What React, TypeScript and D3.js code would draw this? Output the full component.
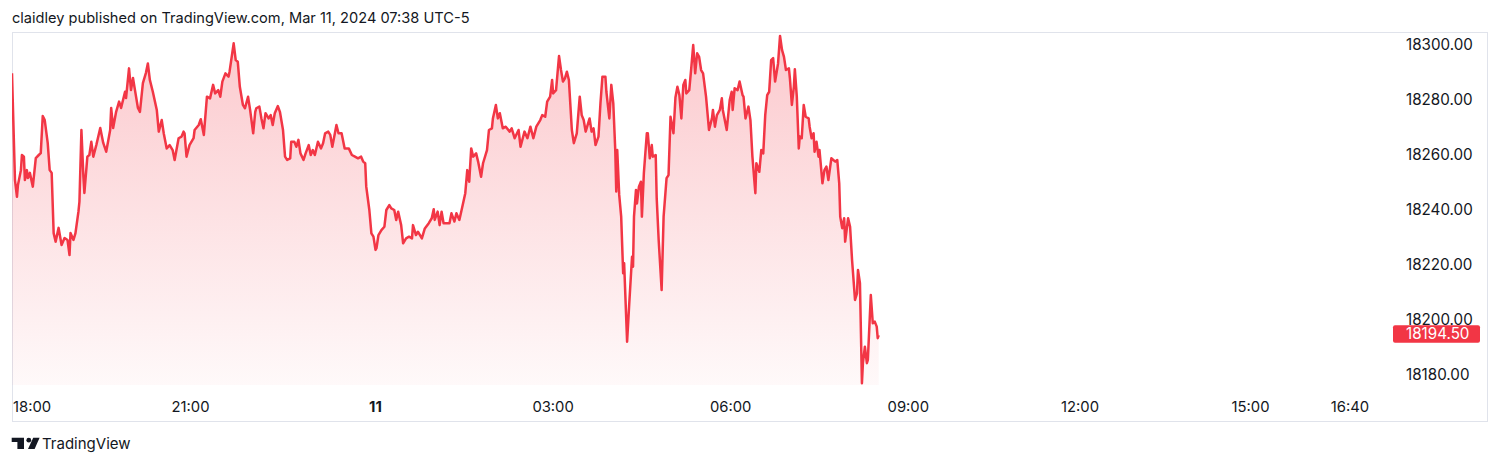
import React from 'react';
import * as d3 from 'd3';

const headerText = 'claidley published on TradingView.com, Mar 11, 2024 07:38 UTC-5';
const brandText = 'TradingView';
const priceTicks = [18180, 18200, 18220, 18240, 18260, 18280, 18300];
const timeTickMinutes = [0, 180, 360, 540, 720, 900, 1080, 1260, 1360];
const timeTickLabels = ['18:00', '21:00', '11', '03:00', '06:00', '09:00', '12:00', '15:00', '16:40'];
const boldTickLabels = ['11'];
const lastPrice = 18194.5;

// [minutes since 18:00, price]
const pricePoints: [number, number][] = [
  [0, 18289.7], [3, 18250.9], [5, 18244.8], [6, 18249.1], [9, 18254.5], [10, 18260], [12, 18259.4], [13, 18250.9],
  [15, 18254.5], [16, 18251.6], [18, 18253.5], [21, 18248.5], [24, 18258.9], [27, 18260], [29, 18260.7], [31, 18274.2],
  [33, 18272.7], [36, 18264.4], [38, 18254.5], [40, 18253.5], [42, 18231.6], [44, 18228.5], [47, 18233.5], [50, 18227.3],
  [53, 18229.8], [56, 18229.1], [58, 18223.6], [59, 18231.6], [62, 18229.1], [64, 18231.6], [67, 18239.4], [68, 18243],
  [70, 18269.1], [72, 18252.1], [73, 18246.2], [76, 18259.4], [78, 18260], [80, 18264.8], [82, 18259.4], [85, 18263.6],
  [89, 18269.8], [92, 18264.4], [95, 18261.2], [99, 18269.1], [100, 18277.1], [102, 18269.8], [105, 18275.7], [108, 18279.4],
  [110, 18277.1], [114, 18283], [115, 18280.7], [118, 18291.5], [120, 18283.6], [122, 18288], [124, 18283.6], [127, 18277.1],
  [129, 18275.7], [132, 18286.1], [135, 18289.8], [137, 18293.3], [139, 18287.3], [142, 18283], [146, 18276.4], [148, 18268.5],
  [151, 18272.7], [153, 18267.9], [156, 18262.4], [159, 18263.6], [162, 18261.8], [164, 18258.2], [168, 18266.1], [171, 18266.7],
  [173, 18268.5], [174, 18267.9], [176, 18259.4], [179, 18263.6], [183, 18266.1], [184, 18269.1], [188, 18270.9], [190, 18273],
  [193, 18267.3], [196, 18281.2], [199, 18280.6], [202, 18285.5], [204, 18282.4], [207, 18283.6], [209, 18281.2], [211, 18286.7],
  [214, 18289.7], [217, 18288.5], [218, 18290.3], [222, 18300.6], [224, 18294.5], [226, 18293.9], [228, 18284.8], [231, 18278.2],
  [233, 18277], [236, 18281.2], [238, 18276.4], [241, 18267.9], [243, 18275.7], [244, 18277], [247, 18277.6], [249, 18273.3],
  [251, 18269.7], [253, 18275.2], [256, 18273.3], [258, 18274.5], [260, 18270.9], [262, 18275.2], [265, 18277.8], [267, 18275.7],
  [270, 18269.1], [272, 18259.4], [274, 18258.2], [277, 18258.8], [278, 18264.8], [281, 18264.8], [283, 18263], [285, 18265.5],
  [287, 18260.6], [290, 18258.2], [292, 18260.6], [295, 18263.6], [297, 18260], [299, 18261.8], [301, 18260], [304, 18264.8],
  [307, 18262.4], [309, 18264.3], [311, 18267.9], [314, 18268.5], [316, 18267.3], [318, 18263], [322, 18270.9], [324, 18267.9],
  [327, 18267.9], [330, 18262.4], [334, 18262.4], [337, 18260], [340, 18259.4], [343, 18258.8], [346, 18259.4], [348, 18257.6],
  [350, 18257], [351, 18248.5], [354, 18240], [356, 18231.5], [358, 18230.3], [360, 18225.5], [361, 18226.1], [363, 18230.9],
  [366, 18232.7], [369, 18233.9], [371, 18240], [374, 18241.8], [376, 18240.6], [379, 18240], [381, 18236.4], [383, 18239.4],
  [386, 18234.5], [388, 18227.9], [391, 18229.7], [394, 18230.3], [397, 18229.7], [398, 18234.5], [401, 18230.9], [403, 18232.1],
  [407, 18229.7], [410, 18233.3], [414, 18235.2], [417, 18237], [419, 18240.3], [420, 18236.4], [423, 18239.4], [425, 18234.5],
  [427, 18239.4], [429, 18235.2], [432, 18235.2], [435, 18235.2], [437, 18238.8], [440, 18235.8], [442, 18238.8], [445, 18236.4],
  [448, 18241.2], [451, 18246.1], [453, 18254.5], [455, 18250.3], [457, 18262.4], [459, 18259.4], [462, 18260.6], [464, 18257.6],
  [467, 18252.1], [469, 18257], [473, 18261.8], [475, 18269.1], [478, 18269.7], [479, 18273.3], [482, 18278.2], [484, 18273.3],
  [486, 18275.2], [489, 18269.7], [492, 18270.3], [496, 18268.5], [498, 18269.7], [501, 18266.1], [505, 18269.1], [507, 18263],
  [511, 18268.5], [514, 18266.1], [517, 18270.3], [520, 18266.1], [523, 18270.3], [527, 18272.7], [529, 18274.5], [532, 18273.9],
  [534, 18279.4], [537, 18281.2], [539, 18287.3], [540, 18282.4], [543, 18283.6], [546, 18296], [548, 18290.9], [550, 18286.7],
  [552, 18287.9], [554, 18290.3], [556, 18287.3], [559, 18269.1], [561, 18264.3], [564, 18267.9], [567, 18281.2], [569, 18274.5],
  [571, 18272.7], [573, 18268.5], [576, 18272.1], [577, 18273.3], [579, 18268.5], [581, 18269.7], [583, 18263.6], [586, 18266.7],
  [588, 18278.8], [590, 18288.5], [593, 18288.5], [594, 18283], [597, 18273.3], [599, 18285.5], [601, 18278.8], [603, 18261.8],
  [604, 18246.7], [605, 18261.8], [607, 18245.5], [609, 18237.6], [611, 18217], [612, 18220.6], [615, 18192.1], [617, 18204.8],
  [620, 18223], [621, 18219.4], [622, 18237.6], [624, 18247.3], [625, 18242.4], [627, 18248.5], [629, 18250.3], [630, 18237.6],
  [632, 18253.4], [635, 18267.9], [636, 18267.9], [638, 18258.8], [640, 18263.6], [641, 18259.4], [644, 18260], [645, 18244.3],
  [647, 18229.1], [650, 18210.9], [652, 18237.6], [655, 18251.6], [657, 18252.7], [659, 18273.9], [662, 18267.9], [664, 18280.9],
  [666, 18284.8], [668, 18281.8], [670, 18273.3], [672, 18285.5], [674, 18287.3], [675, 18282.4], [678, 18283.6], [680, 18291.5],
  [682, 18300], [684, 18289.7], [686, 18297], [688, 18295.7], [690, 18290.9], [692, 18289.7], [695, 18281.2], [698, 18269.1],
  [701, 18273.3], [702, 18276.4], [704, 18270.3], [706, 18274.5], [709, 18276.4], [711, 18280.6], [712, 18276.4], [716, 18269.1],
  [719, 18280], [721, 18283], [722, 18276.4], [724, 18284.3], [727, 18283.6], [729, 18286.7], [732, 18281.8], [733, 18281.2],
  [735, 18273.3], [738, 18277.6], [740, 18272.7], [742, 18259.4], [745, 18246.1], [746, 18257], [749, 18253.9], [751, 18261.8],
  [753, 18260.6], [755, 18274.5], [757, 18281.8], [759, 18283], [761, 18294.5], [763, 18295.2], [765, 18286.7], [768, 18293.3],
  [770, 18303.3], [772, 18298.2], [774, 18295.7], [776, 18290.9], [779, 18291.5], [780, 18287.9], [782, 18278.2], [784, 18284.8],
  [785, 18291.2], [787, 18281.2], [789, 18262.4], [790, 18266.7], [792, 18266.1], [794, 18278.2], [796, 18273.9], [799, 18273.3],
  [800, 18270.3], [802, 18266.1], [804, 18267.9], [805, 18261.2], [807, 18264.8], [809, 18259.4], [810, 18261.8], [813, 18249.7],
  [815, 18254.5], [817, 18255.8], [819, 18250.9], [822, 18258.8], [824, 18258.2], [826, 18257.6], [828, 18258.2], [830, 18249.7],
  [831, 18237.6], [833, 18233.4], [835, 18237], [836, 18228.5], [839, 18237], [841, 18233.9], [843, 18221.8], [846, 18207.3],
  [848, 18209.7], [849, 18218.2], [851, 18213.4], [853, 18177], [854, 18184.3], [856, 18190.3], [858, 18184.3], [859, 18185.5],
  [862, 18209.1], [864, 18198.8], [866, 18199.4], [868, 18197.6], [869, 18193.4], [870, 18194.5],
];

const W = 1500;
const H = 465;
const FONT = 'Inter, "Noto Sans", Roboto, sans-serif';
const TEXT = '#131722';
const RED = '#F23645';

const paneLeft = 12;
const paneTop = 33;
const paneBottom = 385;
const frameRight = 1488;
const frameBottom = 422;

export default function App() {
  const x = d3
    .scaleLinear()
    .domain([0, 180, 360, 900, 1080, 1260, 1360])
    .range([12, 190.5, 375.5, 908.3, 1080, 1250.5, 1350]);
  const y = d3.scaleLinear().domain([18180, 18300]).range([375, 45]);

  const line = d3
    .line<[number, number]>()
    .x((d) => x(d[0]))
    .y((d) => y(d[1]));
  const area = d3
    .area<[number, number]>()
    .x((d) => x(d[0]))
    .y0(paneBottom)
    .y1((d) => y(d[1]));

  const lastY = y(lastPrice);

  return (
    <svg
      width={W}
      height={H}
      style={{ position: 'absolute', left: 0, top: 0, background: '#fff', fontFamily: FONT }}
    >
      <defs>
        <linearGradient id="areaGrad" gradientUnits="userSpaceOnUse" x1="0" y1={paneTop} x2="0" y2={paneBottom}>
          <stop offset="0%" stopColor={RED} stopOpacity={0.27} />
          <stop offset="100%" stopColor={RED} stopOpacity={0.03} />
        </linearGradient>
        <clipPath id="paneClip">
          <rect x={paneLeft} y={paneTop} width={1380} height={paneBottom - paneTop} />
        </clipPath>
      </defs>
      <rect width={W} height={H} fill="#fff" />
      <text x={12} y={23} fontSize={14.6} fill={TEXT}>
        {headerText}
      </text>
      <rect
        x={paneLeft + 0.5}
        y={paneTop - 0.5}
        width={frameRight - paneLeft - 1}
        height={frameBottom - paneTop}
        fill="none"
        stroke="#e0e3eb"
        strokeWidth={1}
      />
      <g clipPath="url(#paneClip)">
        <path d={area(pricePoints) || ''} fill="url(#areaGrad)" />
        <path d={line(pricePoints) || ''} fill="none" stroke={RED} strokeWidth={2.5} strokeLinejoin="round" />
      </g>
      {priceTicks.map((p) => (
        <text key={p} x={1406} y={y(p)} dy="0.35em" fontSize={15.2} fill={TEXT}>
          {p.toFixed(2)}
        </text>
      ))}
      <rect x={1393} y={lastY - 10} width={87} height={17.5} rx={2} fill={RED} />
      <text x={1406} y={lastY - 1.2} dy="0.35em" fontSize={15.2} fill="#fff">
        {lastPrice.toFixed(2)}
      </text>
      {timeTickMinutes.map((m, i) => {
        const label = timeTickLabels[i];
        const bold = boldTickLabels.includes(label);
        const first = i === 0;
        return (
          <text
            key={m}
            x={first ? x(m) + 1 : x(m)}
            y={407}
            dy="0.35em"
            fontSize={14.8}
            fontWeight={bold ? 700 : 400}
            textAnchor={first ? 'start' : 'middle'}
            fill={TEXT}
          >
            {label}
          </text>
        );
      })}
      <g fill={TEXT}>
        <path d="M11.7 437.7 H24 V449 H17.4 V442 H11.7 Z" />
        <circle cx={28.8} cy={440.2} r={2.4} />
        <path d="M33.2 437.7 H39.6 L34.6 449 H28 Z" />
        <text x={42} y={449} fontSize={15} fill={TEXT}>
          {brandText}
        </text>
      </g>
    </svg>
  );
}
